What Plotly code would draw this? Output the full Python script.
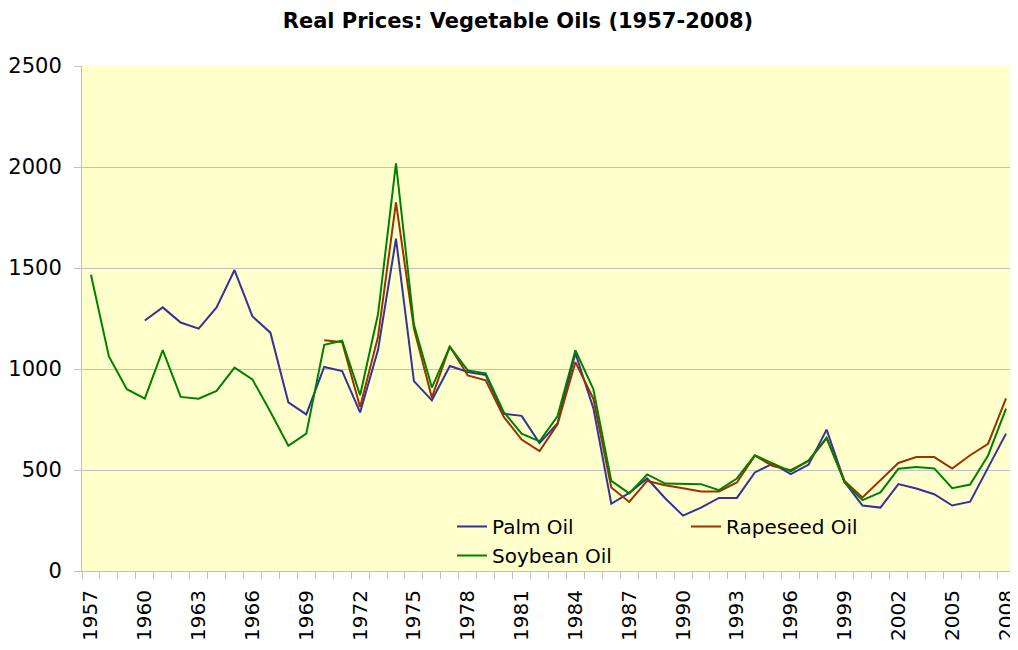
import plotly.graph_objects as go

years = list(range(1957, 2009))

palm_oil = [None, None, None,
            1240, 1305, 1230, 1200, 1305, 1490, 1260, 1180, 835, 775,
            1010, 990, 785, 1095, 1645, 940, 845, 1015, 985, 970,
            778, 768, 633, 730, 1078, 806, 333, 387, 458, 360,
            274, 314, 362, 362, 488, 532, 480, 527, 700, 441,
            324, 314, 430, 408, 380, 324, 343, 515, 680]

rapeseed_oil = [None] * 13 + [
            1142, 1133, 812, 1160, 1825, 1200, 858, 1113, 968, 944,
            764, 651, 594, 726, 1034, 853, 413, 342, 446, 425,
            410, 394, 394, 438, 571, 520, 499, 545, 657, 446,
            364, 450, 535, 564, 564, 507, 573, 630, 854]

soybean_oil = [1467, 1062, 900,
            853, 1093, 862, 853, 892, 1007, 948, 788, 620, 680,
            1120, 1140, 870, 1272, 2018, 1220, 908, 1110, 993, 978,
            788, 680, 642, 766, 1093, 900, 446, 384, 478, 433,
            430, 430, 400, 458, 573, 535, 493, 548, 660, 439,
            351, 389, 506, 515, 508, 410, 428, 572, 804]

label_years = list(range(1957, 2009, 3))
y_ticks = [0, 500, 1000, 1500, 2000, 2500]

FONT = "DejaVu Sans"
# the page body adds an 8 px offset, so the figure is 8 px smaller each way
W, H = 1010, 642
L, R, T, B = 74, 3, 58, 79
PW = W - L - R
PH = H - T - B

fig = go.Figure()
fig.add_trace(go.Scatter(x=years, y=palm_oil, name="Palm Oil", mode="lines",
                         line=dict(color="#333399", width=2), legend="legend"))
fig.add_trace(go.Scatter(x=years, y=rapeseed_oil, name="Rapeseed Oil", mode="lines",
                         line=dict(color="#993300", width=2), legend="legend2"))
fig.add_trace(go.Scatter(x=years, y=soybean_oil, name="Soybean Oil", mode="lines",
                         line=dict(color="#008000", width=2), legend="legend"))

leg_common = dict(bgcolor="rgba(0,0,0,0)", borderwidth=0, orientation="v",
                  font=dict(family=FONT, size=20, color="black"),
                  xanchor="left", yanchor="top", tracegroupgap=0)

fig.update_layout(
    width=W, height=H,
    margin=dict(l=L, r=R, t=T, b=B, autoexpand=False),
    paper_bgcolor="white",
    plot_bgcolor="#FFFFCC",
    font=dict(family=FONT, size=20, color="black"),
    title=dict(text="<b>Real Prices: Vegetable Oils (1957-2008)</b>",
               x=510 / W, xanchor="center", y=1 - 13 / H, yanchor="middle",
               font=dict(family=FONT, size=21, color="black")),
    showlegend=True,
    legend=dict(x=(444 - L) / PW, y=(T + PH - 499) / PH, **leg_common),
    legend2=dict(x=(678 - L) / PW, y=(T + PH - 499) / PH, **leg_common),
    xaxis=dict(range=[1956.5, 2008.5], showgrid=False, zeroline=False,
               automargin=False,
               showline=True, linecolor="#BFBFBF", linewidth=1,
               tickmode="array", tickvals=label_years,
               ticktext=[str(v) for v in label_years],
               tickangle=-90, ticks="outside", ticklen=8,
               tickcolor="rgba(0,0,0,0)", ticklabelstandoff=2,
               tickfont=dict(family=FONT, size=20, color="black"),
               minor=dict(tickmode="array",
                          tickvals=[v + 0.5 for v in range(1956, 2009)],
                          ticks="outside", ticklen=7, tickcolor="#BFBFBF",
                          showgrid=False)),
    yaxis=dict(range=[0, 2500], tickmode="array", tickvals=y_ticks,
               automargin=False,
               showgrid=True, gridcolor="#C0C0C0", gridwidth=1,
               zeroline=False, showline=True, linecolor="#BFBFBF", linewidth=1,
               ticks="outside", ticklen=7, tickcolor="#BFBFBF",
               ticklabelstandoff=8,
               tickfont=dict(family=FONT, size=21, color="black")),
)

fig.write_html("out.html")
